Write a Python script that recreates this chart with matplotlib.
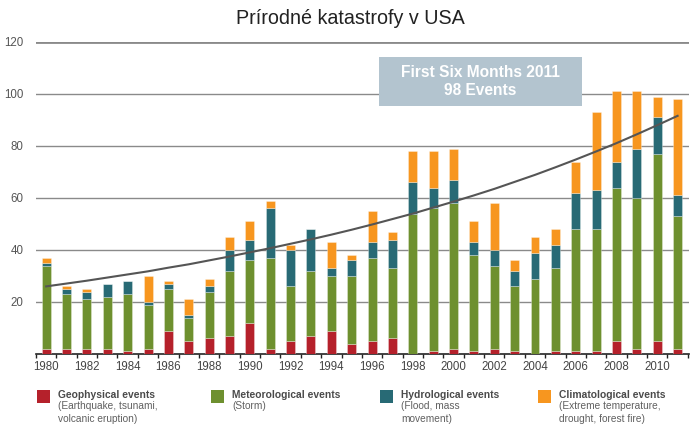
import matplotlib
matplotlib.use("Agg")
import matplotlib.pyplot as plt
from matplotlib.patches import Rectangle

plt.rcParams['font.family'] = ['Liberation Sans', 'DejaVu Sans']

years = list(range(1980, 2012))
geophysical    = [2, 2, 2, 2, 1, 2, 9, 5, 6, 7, 12, 2, 5, 7, 9, 4, 5, 6, 0, 1, 2, 1, 2, 1, 0, 1, 1, 1, 5, 2, 5, 2]
meteorological = [32, 21, 19, 20, 22, 17, 16, 9, 18, 25, 24, 35, 21, 25, 21, 26, 32, 27, 54, 55, 56, 37, 32, 25, 29, 32, 47, 47, 59, 58, 72, 51]
hydrological   = [1, 2, 3, 5, 5, 1, 2, 1, 2, 8, 8, 19, 14, 16, 3, 6, 6, 11, 12, 8, 9, 5, 6, 6, 10, 9, 14, 15, 10, 19, 14, 8]
climatological = [2, 1, 1, 0, 0, 10, 1, 6, 3, 5, 7, 3, 2, 0, 10, 2, 12, 3, 12, 14, 12, 8, 18, 4, 6, 6, 12, 30, 27, 22, 8, 37]
trend = [26.0, 27.1, 28.2, 29.4, 30.6, 31.8, 33.2, 34.5, 36.0, 37.5, 39.1, 40.7, 42.4, 44.1,
         45.9, 47.8, 49.8, 51.9, 54.0, 56.3, 58.6, 61.0, 63.5, 66.2, 68.9, 71.8, 74.8, 77.9,
         81.1, 84.5, 88.0, 91.6]
x_tick_labels = [str(y) for y in range(1980, 2012, 2)]
y_ticks = [20, 40, 60, 80, 100, 120]

title = "Prírodné katastrofy v USA"
box_text = "First Six Months 2011\n98 Events"
legend_titles = ["Geophysical events", "Meteorological events", "Hydrological events", "Climatological events"]
legend_subs = ["(Earthquake, tsunami,\nvolcanic eruption)", "(Storm)", "(Flood, mass\nmovement)",
               "(Extreme temperature,\ndrought, forest fire)"]

colors = ["#B5212B", "#6E902F", "#286A75", "#F7961F"]

W, H = 700, 430
fig = plt.figure(figsize=(W / 100, H / 100), dpi=100)
ax = fig.add_axes([36 / W, (H - 354) / H, (689 - 36) / W, 312 / H])

series = [geophysical, meteorological, hydrological, climatological]
bottom = [0] * len(years)
for vals, c in zip(series, colors):
    ax.bar(years, vals, width=0.44, bottom=bottom, color=c, edgecolor=(1, 1, 1, 0.35),
           linewidth=0.6, zorder=3)
    bottom = [b + v for b, v in zip(bottom, vals)]

ax.plot(years, trend, color="#555555", lw=1.5, zorder=4)

ax.set_xlim(1979.5, 2011.56)
ax.set_ylim(0, 120)

for yv in y_ticks:
    ax.axhline(yv, color="#8a8a8a", lw=2.0 if yv == 120 else 1.0, zorder=1)
ax.set_yticks(y_ticks)
ax.set_yticklabels([str(v) for v in y_ticks], fontsize=8.3, color="#555555")
ax.tick_params(axis='y', length=0, pad=9)

ax.set_xticks([y - 0.5 for y in range(1980, 2012)] + [2011.5], minor=False)
ax.set_xticklabels([])
ax.tick_params(axis='x', which='major', length=3, width=1, color="#222222", direction='out')
ax.set_xticks(list(range(1980, 2012, 2)), minor=True)
ax.set_xticklabels(x_tick_labels, minor=True, fontsize=8.3, color="#444444")
ax.tick_params(axis='x', which='minor', length=0, pad=5)

for s in ['left', 'right', 'top']:
    ax.spines[s].set_visible(False)
ax.spines['bottom'].set_color("#222222")
ax.spines['bottom'].set_linewidth(1.2)

fig.text(350 / W, 1 - 18 / H, title, ha='center', va='center', fontsize=14.2, color="#222222")

fig.patches.append(Rectangle((379 / W, 1 - 106 / H), (582 - 379) / W, (106 - 57) / H,
                             transform=fig.transFigure, facecolor="#B3C4CF", edgecolor="none",
                             zorder=5))
fig.text(480 / W, 1 - 81.5 / H, box_text, ha='center', va='center', fontsize=11.2,
         fontweight='bold', color="white", linespacing=1.25, zorder=6)

sq_x = [37, 211, 380, 538]
for sx, c, t, s in zip(sq_x, colors, legend_titles, legend_subs):
    fig.patches.append(Rectangle((sx / W, 1 - 403 / H), 13 / W, 13 / H, transform=fig.transFigure,
                                 facecolor=c, edgecolor="none"))
    fig.text((sx + 21) / W, 1 - 395 / H, t, ha='left', va='center', fontsize=7.4,
             fontweight='bold', color="#4a4a4a")
    fig.text((sx + 21) / W, 1 - 401 / H, s, ha='left', va='top', fontsize=7.3,
             color="#606060", linespacing=1.35)

fig.savefig("out.png", dpi=100)
